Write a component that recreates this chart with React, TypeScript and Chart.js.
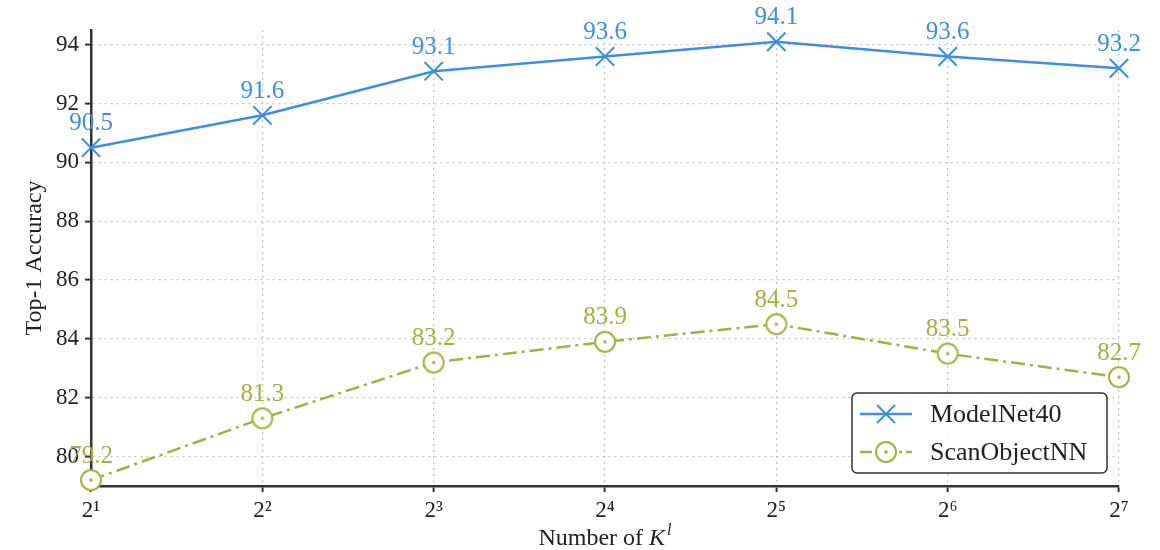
import React, { useEffect, useRef } from 'react';
import { Chart, registerables } from 'chart.js';
Chart.register(...registerables);

const K_EXP = [1, 2, 3, 4, 5, 6, 7];
const X_TICK_LABELS = ['2¹', '2²', '2³', '2⁴', '2⁵', '2⁶', '2⁷'];
const Y_TICKS = [80, 82, 84, 86, 88, 90, 92, 94];
const MODELNET40 = [90.5, 91.6, 93.1, 93.6, 94.1, 93.6, 93.2];
const SCANOBJECTNN = [79.2, 81.3, 83.2, 83.9, 84.5, 83.5, 82.7];
const SERIES_NAMES = ['ModelNet40', 'ScanObjectNN'];
const Y_TITLE = 'Top-1 Accuracy';
const X_TITLE_MAIN = 'Number of ';
const X_TITLE_VAR = 'K';
const X_TITLE_SUP = 'l';

const BLUE = '#3d8fe0';
const GREEN = '#a2b143';
const FONT = '"Liberation Serif", "DejaVu Serif", serif';
const TXT = '#222';

function makeOdot(color: string) {
  const c = document.createElement('canvas');
  c.width = 26;
  c.height = 26;
  const g = c.getContext('2d')!;
  g.fillStyle = '#fff';
  g.strokeStyle = color;
  g.lineWidth = 2;
  g.beginPath();
  g.arc(13, 13, 10, 0, Math.PI * 2);
  g.fill();
  g.stroke();
  g.fillStyle = color;
  g.beginPath();
  g.arc(13, 13, 1.8, 0, Math.PI * 2);
  g.fill();
  return c;
}

const labelPlugin = {
  id: 'valueLabels',
  afterDatasetsDraw(chart: any) {
    const ctx = chart.ctx;
    ctx.save();
    ctx.font = `25px ${FONT}`;
    ctx.textAlign = 'center';
    ctx.textBaseline = 'middle';
    chart.data.datasets.forEach((ds: any, i: number) => {
      const meta = chart.getDatasetMeta(i);
      ctx.fillStyle = ds.borderColor;
      meta.data.forEach((el: any, j: number) => {
        const v = ds.data[j].y;
        ctx.fillText(v.toFixed(1), el.x, el.y - 24);
      });
    });
    ctx.restore();
  },
};

const decorPlugin = {
  id: 'decor',
  afterDraw(chart: any) {
    const ctx = chart.ctx;
    const area = chart.chartArea;
    ctx.save();
    ctx.fillStyle = TXT;
    ctx.font = `24px ${FONT}`;
    ctx.textAlign = 'center';
    ctx.textBaseline = 'middle';
    ctx.translate(35, (area.top + area.bottom) / 2);
    ctx.rotate(-Math.PI / 2);
    ctx.fillText(Y_TITLE, 0, 0);
    ctx.restore();

    ctx.save();
    ctx.fillStyle = TXT;
    ctx.textBaseline = 'alphabetic';
    const fMain = `24px ${FONT}`;
    const fVar = `italic 24px ${FONT}`;
    const fSup = `italic 16px ${FONT}`;
    ctx.font = fMain;
    const w1 = ctx.measureText(X_TITLE_MAIN).width;
    ctx.font = fVar;
    const w2 = ctx.measureText(X_TITLE_VAR).width;
    ctx.font = fSup;
    const w3 = ctx.measureText(X_TITLE_SUP).width;
    const total = w1 + w2 + w3 + 2;
    let x = (area.left + area.right) / 2 - total / 2;
    const base = 545;
    ctx.textAlign = 'left';
    ctx.font = fMain;
    ctx.fillText(X_TITLE_MAIN, x, base);
    x += w1;
    ctx.font = fVar;
    ctx.fillText(X_TITLE_VAR, x, base);
    x += w2 + 2;
    ctx.font = fSup;
    ctx.fillText(X_TITLE_SUP, x, base - 10);
    ctx.restore();

    ctx.save();
    const bx = 852, by = 393, bw = 255, bh = 80, r = 5;
    ctx.beginPath();
    ctx.moveTo(bx + r, by);
    ctx.arcTo(bx + bw, by, bx + bw, by + bh, r);
    ctx.arcTo(bx + bw, by + bh, bx, by + bh, r);
    ctx.arcTo(bx, by + bh, bx, by, r);
    ctx.arcTo(bx, by, bx + bw, by, r);
    ctx.closePath();
    ctx.fillStyle = 'rgba(255,255,255,0.9)';
    ctx.fill();
    ctx.strokeStyle = '#333';
    ctx.lineWidth = 1.5;
    ctx.stroke();

    const rows = [
      { y: 414, color: BLUE, dash: [] as number[], kind: 'x' },
      { y: 452, color: GREEN, dash: [12, 4, 3, 4], kind: 'o' },
    ];
    rows.forEach((row, i) => {
      ctx.strokeStyle = row.color;
      ctx.lineWidth = 2.5;
      ctx.setLineDash(row.dash);
      ctx.beginPath();
      ctx.moveTo(860, row.y);
      ctx.lineTo(912, row.y);
      ctx.stroke();
      ctx.setLineDash([]);
      const mx = 886;
      if (row.kind === 'x') {
        ctx.lineWidth = 2;
        ctx.beginPath();
        ctx.moveTo(mx - 9, row.y - 9);
        ctx.lineTo(mx + 9, row.y + 9);
        ctx.moveTo(mx + 9, row.y - 9);
        ctx.lineTo(mx - 9, row.y + 9);
        ctx.stroke();
      } else {
        ctx.fillStyle = '#fff';
        ctx.lineWidth = 2;
        ctx.beginPath();
        ctx.arc(mx, row.y, 10, 0, Math.PI * 2);
        ctx.fill();
        ctx.stroke();
        ctx.fillStyle = row.color;
        ctx.beginPath();
        ctx.arc(mx, row.y, 1.8, 0, Math.PI * 2);
        ctx.fill();
      }
      ctx.fillStyle = TXT;
      ctx.font = `26px ${FONT}`;
      ctx.textAlign = 'left';
      ctx.textBaseline = 'middle';
      ctx.fillText(SERIES_NAMES[i], 930, row.y + 1);
    });
    ctx.restore();
  },
};

export default function App() {
  const ref = useRef<HTMLCanvasElement | null>(null);
  useEffect(() => {
    document.body.style.margin = '0';
    const canvas = ref.current!;
    const odot = makeOdot(GREEN);
    const chart = new Chart(canvas, {
      type: 'line',
      data: {
        datasets: [
          {
            label: SERIES_NAMES[0],
            data: K_EXP.map((k, i) => ({ x: k, y: MODELNET40[i] })),
            borderColor: BLUE,
            backgroundColor: BLUE,
            borderWidth: 2.5,
            pointStyle: 'crossRot',
            pointRadius: 13,
            pointBorderWidth: 2,
            pointBorderColor: BLUE,
            clip: false,
            tension: 0,
          },
          {
            label: SERIES_NAMES[1],
            data: K_EXP.map((k, i) => ({ x: k, y: SCANOBJECTNN[i] })),
            borderColor: GREEN,
            backgroundColor: GREEN,
            borderWidth: 2.5,
            borderDash: [14, 5, 3, 5],
            pointStyle: odot as any,
            pointRadius: 13,
            clip: false,
            tension: 0,
          },
        ],
      },
      options: {
        responsive: false,
        animation: false,
        layout: { padding: { left: 0, right: 41, top: 30, bottom: 0 } },
        plugins: { legend: { display: false }, tooltip: { enabled: false } },
        scales: {
          x: {
            type: 'linear',
            min: 1,
            max: 7,
            afterBuildTicks: (s: any) => {
              s.ticks = K_EXP.map((v) => ({ value: v }));
            },
            afterFit: (s: any) => {
              s.height = 64;
            },
            ticks: {
              callback: (v: any) => X_TICK_LABELS[K_EXP.indexOf(Number(v))] ?? '',
              font: { family: FONT, size: 23 },
              color: TXT,
              padding: 5,
              maxRotation: 0,
              autoSkip: false,
            },
            grid: {
              color: '#c4c4c4',
              lineWidth: 1.2,
              tickLength: 6,
              tickColor: '#333',
              tickWidth: 2,
            },
            border: { display: true, color: '#333', width: 2.5, dash: [2, 4] },
          },
          y: {
            type: 'linear',
            min: 79,
            max: 94.5,
            afterBuildTicks: (s: any) => {
              s.ticks = Y_TICKS.map((v) => ({ value: v }));
            },
            afterFit: (s: any) => {
              s.width = 91;
            },
            ticks: {
              font: { family: FONT, size: 23 },
              color: TXT,
              padding: 6,
            },
            grid: {
              color: '#c4c4c4',
              lineWidth: 1.2,
              tickLength: 6,
              tickColor: '#333',
              tickWidth: 2,
            },
            border: { display: true, color: '#333', width: 2.5, dash: [2, 4] },
          },
        },
      },
      plugins: [labelPlugin, decorPlugin],
    } as any);
    return () => chart.destroy();
  }, []);
  return <canvas ref={ref} width={1160} height={550} style={{ display: 'block' }} />;
}
